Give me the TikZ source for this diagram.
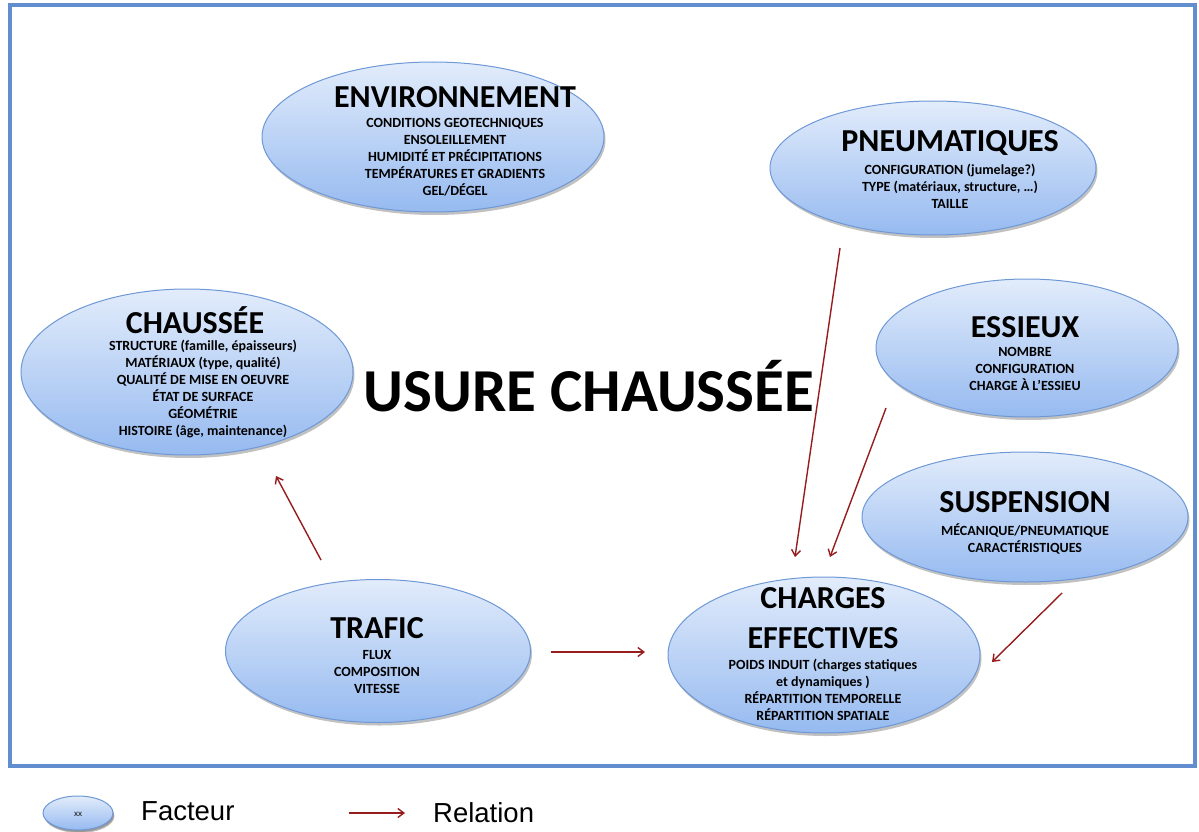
\documentclass[tikz,border=0pt]{standalone}
\usepackage{fontspec}
\setmainfont{Carlito}
\newfontfamily\arialf{Liberation Sans}
\usetikzlibrary{shapes.geometric,shadows,arrows.meta}
\definecolor{frameblue}{RGB}{98,142,208}
\definecolor{ellborder}{RGB}{110,152,214}
\definecolor{elltop}{RGB}{226,236,251}
\definecolor{ellbot}{RGB}{150,186,240}
\definecolor{relred}{RGB}{150,28,30}
\tikzset{
  factor/.style={ellipse, draw=ellborder, line width=1pt, top color=elltop, bottom color=ellbot, inner sep=0pt,
    drop shadow={opacity=0.35, shadow xshift=1.5pt, shadow yshift=-3pt, fill=black!70}},
  ftitle/.style={font=\bfseries\fontsize{32}{38}\selectfont, inner sep=0pt},
  flines/.style={font=\bfseries\fontsize{14}{17}\selectfont, align=center, inner sep=0pt, anchor=north},
  rel/.style={draw=relred, line width=1.4pt, -{Straight Barb[length=6pt,width=9pt,line width=1.4pt]}},
}
\begin{document}
\begin{tikzpicture}[x=1pt,y=-1pt]
\useasboundingbox (0,0) rectangle (1199,832);
\draw[frameblue, line width=4.5pt] (10,5) rectangle (1195,766);

% ENVIRONNEMENT
\node[factor, minimum width=342, minimum height=150] (env) at (433,137) {};
\node[ftitle] (envt) at (455,97) {ENVIRONNEMENT};
\node[flines] (envl) at (455,118) {CONDITIONS GEOTECHNIQUES\\ENSOLEILLEMENT\\HUMIDITÉ ET PRÉCIPITATIONS\\TEMPÉRATURES ET GRADIENTS\\GEL/DÉGEL};

% PNEUMATIQUES
\node[factor, minimum width=326, minimum height=134] (pneu) at (933,168) {};
\node[ftitle] (pneut) at (950,143) {PNEUMATIQUES};
\node[flines] (pneul) at (950,164) {CONFIGURATION (jumelage?)\\TYPE (matériaux, structure, …)\\TAILLE};

% CHAUSSEE
\node[factor, minimum width=332, minimum height=166] (chau) at (187,372) {};
\node[ftitle] (chaut) at (195,320) {CHAUSSÉE};
\node[flines] (chaul) at (203,340) {STRUCTURE (famille, épaisseurs)\\MATÉRIAUX (type, qualité)\\QUALITÉ DE MISE EN OEUVRE\\ÉTAT DE SURFACE\\GÉOMÉTRIE\\HISTOIRE (âge, maintenance)};

% USURE
\node[font=\bfseries\fontsize{61}{68}\selectfont, inner sep=0pt] (usure) at (589,386) {USURE CHAUSSÉE};

% ESSIEUX
\node[factor, minimum width=302, minimum height=138] (ess) at (1027,348) {};
\node[ftitle] (esst) at (1025,327) {ESSIEUX};
\node[flines] (essl) at (1025,347) {NOMBRE\\CONFIGURATION\\CHARGE À L’ESSIEU};

% SUSPENSION
\node[factor, minimum width=326, minimum height=130] (susp) at (1025,517) {};
\node[ftitle] (suspt) at (1025,502) {SUSPENSION};
\node[flines] (suspl) at (1025,524) {MÉCANIQUE/PNEUMATIQUE\\CARACTÉRISTIQUES};

% CHARGES EFFECTIVES
\node[factor, minimum width=312, minimum height=156] (charg) at (824,655) {};
\node[ftitle, align=center, font=\bfseries\fontsize{32}{40}\selectfont] (chargt) at (823,618) {CHARGES\\EFFECTIVES};
\node[flines] (chargl) at (823,659) {POIDS INDUIT (charges statiques\\et dynamiques )\\RÉPARTITION TEMPORELLE\\RÉPARTITION SPATIALE};

% TRAFIC
\node[factor, minimum width=305, minimum height=143] (traf) at (378,651) {};
\node[ftitle] (traft) at (377,628) {TRAFIC};
\node[flines] (trafl) at (377,650) {FLUX\\COMPOSITION\\VITESSE};

% relations (free ends as named coordinates)
\coordinate (trafE) at (551,652);
\coordinate (chargW) at (645,652);
\coordinate (trafN) at (321,560);
\coordinate (chauS) at (276,476);
\coordinate (pneuS) at (840,248);
\coordinate (essS) at (886,408);
\coordinate (suspS) at (1062,593);
\coordinate (chargA) at (795,557);
\coordinate (chargB) at (830,557);
\coordinate (chargC) at (992,662);
\draw[rel] (trafE) -- (chargW);
\draw[rel] (trafN) -- (chauS);
\draw[rel] (pneuS) -- (chargA);
\draw[rel] (essS) -- (chargB);
\draw[rel] (suspS) -- (chargC);

% legend
\node[factor, minimum width=70, minimum height=34, drop shadow={opacity=0.35, shadow xshift=1pt, shadow yshift=-2pt, fill=black!70}] (leg) at (78,813) {};
\node[font=\arialf\fontsize{8}{9}\selectfont, inner sep=0pt] (legxx) at (78,814) {xx};
\node[font=\arialf\fontsize{27.5}{30}\selectfont, anchor=west, inner sep=0pt] (legf) at (141,811) {Facteur};
\coordinate (legA) at (349,813);
\coordinate (legB) at (405,813);
\draw[rel] (legA) -- (legB);
\node[font=\arialf\fontsize{27.5}{30}\selectfont, anchor=west, inner sep=0pt] (legr) at (433,813) {Relation};
\end{tikzpicture}
\end{document}
